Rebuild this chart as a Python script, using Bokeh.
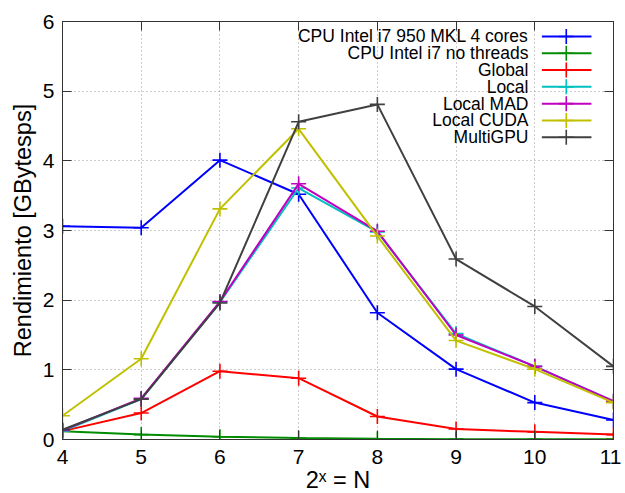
from bokeh.plotting import figure
from bokeh.models import LinearAxis, Range1d, FixedTicker, Label
from bokeh.embed import file_html
from bokeh.resources import INLINE

# ---------------- data ----------------
x_exp = [4, 5, 6, 7, 8, 9, 10, 11]

cpu_mkl = [3.06, 3.04, 4.01, 3.52, 1.82, 1.01, 0.53, 0.28]
cpu_nothreads = [0.12, 0.07, 0.04, 0.02, 0.01, 0.005, 0.003, 0.002]
global_mem = [0.12, 0.38, 0.98, 0.88, 0.33, 0.15, 0.11, 0.07]
local_mem = [0.12, 0.58, 1.97, 3.61, 2.98, 1.52, 1.05, 0.55]
local_mad = [0.13, 0.59, 1.98, 3.67, 2.99, 1.50, 1.05, 0.55]
local_cuda = [0.34, 1.16, 3.31, 4.46, 2.92, 1.42, 1.01, 0.53]
multigpu = [0.14, 0.58, 1.96, 4.56, 4.81, 2.59, 1.91, 1.05]

series_names = ["CPU Intel i7 950 MKL 4 cores", "CPU Intel i7 no threads", "Global",
                "Local", "Local MAD", "Local CUDA", "MultiGPU"]
series_values = [cpu_mkl, cpu_nothreads, global_mem, local_mem, local_mad, local_cuda, multigpu]
series_colors = ["#0000ff", "#008c00", "#ff0000", "#00c0c0", "#c000c0", "#c0c000", "#404040"]

x_ticks = [4, 5, 6, 7, 8, 9, 10, 11]
y_ticks = [0, 1, 2, 3, 4, 5, 6]

FONT = "Liberation Sans"

# ---------------- figure ----------------
p = figure(frame_width=551, frame_height=418,
           min_border_left=62, min_border_top=21, min_border_right=8, min_border_bottom=46,
           x_range=Range1d(4, 11), y_range=Range1d(0, 6),
           output_backend="svg", toolbar_location=None,
           x_axis_label="2ˣ = N", y_axis_label="Rendimiento [GBytesps]")
p.background_fill_color = "white"
p.border_fill_color = "white"
p.outline_line_color = "#333333"
p.outline_line_width = 1

bottom_ax = p.below[0]
left_ax = p.left[0]
right_ax = LinearAxis()
top_ax = LinearAxis()
p.add_layout(right_ax, "right")
p.add_layout(top_ax, "above")

for ax in [bottom_ax, top_ax]:
    ax.ticker = FixedTicker(ticks=x_ticks)
for ax in [left_ax, right_ax]:
    ax.ticker = FixedTicker(ticks=y_ticks)

for ax in [bottom_ax, left_ax, right_ax, top_ax]:
    ax.major_tick_in = 9
    ax.major_tick_out = 0
    ax.minor_tick_line_color = None
    ax.axis_line_color = "#333333"
    ax.major_tick_line_color = "#333333"
    ax.major_label_text_font = FONT
    ax.major_label_text_font_size = "21px"
    ax.major_label_text_color = "black"
    ax.axis_label_text_font = FONT
    ax.axis_label_text_font_size = "23.5px"
    ax.axis_label_text_font_style = "normal"
    ax.axis_label_text_color = "black"
    ax.major_label_standoff = 8

for ax in [right_ax, top_ax]:
    ax.major_label_text_font_size = "0px"
    ax.major_label_text_color = None
    ax.major_label_standoff = 0

bottom_ax.major_label_standoff = 10
bottom_ax.axis_label_standoff = 0
left_ax.axis_label_standoff = 4

p.xgrid.ticker = FixedTicker(ticks=x_ticks)
p.ygrid.ticker = FixedTicker(ticks=y_ticks)
for g in [p.xgrid[0], p.ygrid[0]]:
    g.grid_line_color = "#9a9a9a"
    g.grid_line_dash = "1 3"
    g.grid_line_width = 1

# ---------------- series ----------------
for name, vals, col in zip(series_names, series_values, series_colors):
    p.line(x_exp, vals, line_color=col, line_width=2)
    p.scatter(x_exp, vals, marker="cross", size=15, line_color=col, line_width=1.6)

# ---------------- legend (text left, sample right, gnuplot style) ----------------
leg_text_x = 9.92
leg_line_x0 = 10.09
leg_line_x1 = 10.72
leg_mark_x = 10.40
leg_top_y = 5.785
leg_step = 0.241

for i, (name, col) in enumerate(zip(series_names, series_colors)):
    yy = leg_top_y - i * leg_step
    p.add_layout(Label(x=leg_text_x, y=yy, text=name, text_align="right",
                       text_baseline="middle", text_font=FONT,
                       text_font_size="17.5px", text_color="black"))
    p.segment(x0=[leg_line_x0], y0=[yy], x1=[leg_line_x1], y1=[yy],
              line_color=col, line_width=2)
    p.scatter(x=[leg_mark_x], y=[yy], marker="cross", size=15,
              line_color=col, line_width=1.6)

open("out.html", "w").write(file_html(p, INLINE))
